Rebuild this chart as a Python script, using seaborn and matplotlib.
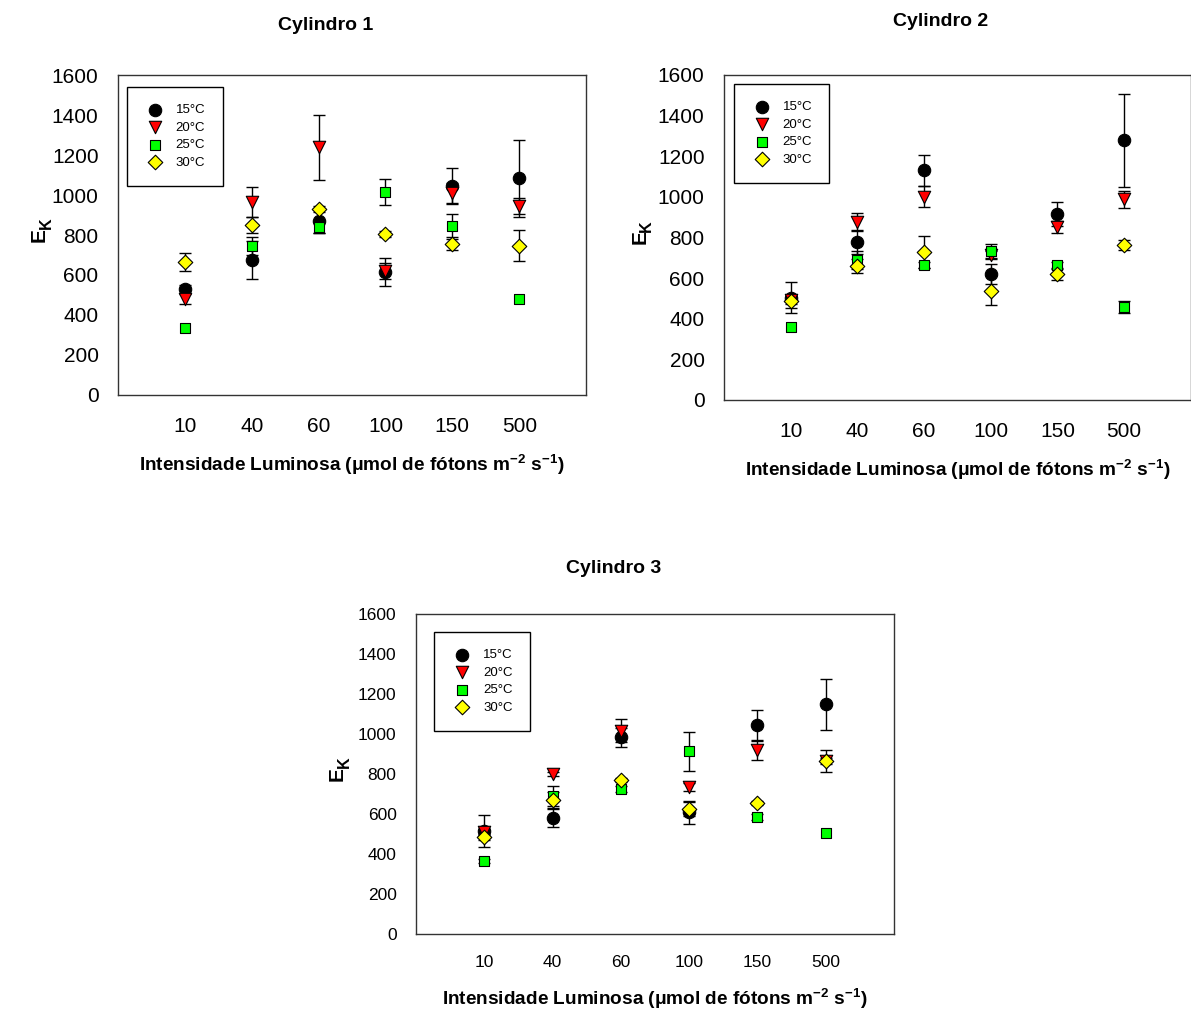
#!/usr/bin/env python3
"""E_K por intensidade luminosa e temperatura, tres cilindros."""

import matplotlib
matplotlib.use("Agg")
import matplotlib.pyplot as plt
import pandas as pd
import seaborn as sns

INTENSIDADES = ["10", "40", "60", "100", "150", "500"]
TEMPERATURAS = ["15°C", "20°C", "25°C", "30°C"]

# Cylindro 1
C1_15 = [532, 675, 870, 615, 1045, 1083]
C1_15_ERR = [20, 97, 60, 70, 90, 192]
C1_20 = [480, 963, 1238, 622, 1008, 947]
C1_20_ERR = [27, 75, 163, 40, 50, 40]
C1_25 = [337, 745, 842, 1017, 847, 478]
C1_25_ERR = [0, 45, 30, 65, 58, 0]
C1_30 = [663, 850, 932, 803, 753, 747]
C1_30_ERR = [45, 40, 15, 15, 28, 78]

# Cylindro 2
C2_15 = [503, 779, 1131, 620, 915, 1279]
C2_15_ERR = [76, 60, 76, 50, 60, 229]
C2_20 = [492, 877, 1000, 713, 852, 987]
C2_20_ERR = [20, 44, 52, 20, 30, 40]
C2_25 = [359, 689, 664, 733, 664, 459]
C2_25_ERR = [0, 44, 15, 36, 15, 30]
C2_30 = [485, 659, 728, 538, 618, 762]
C2_30_ERR = [30, 36, 80, 72, 28, 25]

# Cylindro 3
C3_15 = [515, 578, 983, 608, 1043, 1148]
C3_15_ERR = [78, 45, 47, 58, 78, 127]
C3_20 = [512, 800, 1017, 733, 920, 865]
C3_20_ERR = [15, 10, 58, 20, 50, 15]
C3_25 = [367, 692, 723, 913, 587, 503]
C3_25_ERR = [10, 50, 15, 97, 15, 0]
C3_30 = [487, 668, 768, 625, 655, 865]
C3_30_ERR = [15, 40, 10, 37, 10, 55]

CORES = ["black", "#ff0000", "#00ff00", "#ffff00"]
MARCADORES = ["o", "v", "s", "D"]
TAMANHOS = [80, 80, 60, 55]

XLABEL = ("Intensidade Luminosa ($\\mathregular{\\mu}$mol de fótons m$^{\\mathbf{-2}}$"
          " s$^{\\mathbf{-1}}$)")


def montar_df(series):
    linhas = []
    for temp, (vals, errs) in zip(TEMPERATURAS, series):
        for i, (inten, v, e) in enumerate(zip(INTENSIDADES, vals, errs)):
            linhas.append({"intensidade": inten, "pos": i + 1, "ek": v,
                           "err": e, "temp": temp})
    return pd.DataFrame(linhas)


def desenhar(ax, df, fs_tick, xpad, ypad, leg_anchor, leg_fs):
    for temp in TEMPERATURAS:
        sub = df[df["temp"] == temp]
        sub = sub[sub["err"] > 0]
        ax.errorbar(sub["pos"], sub["ek"], yerr=sub["err"], fmt="none",
                    ecolor="black", elinewidth=1.0, capsize=4, capthick=1.0,
                    zorder=2)
    for temp, cor, mk, s in zip(TEMPERATURAS, CORES, MARCADORES, TAMANHOS):
        sub = df[df["temp"] == temp]
        sns.scatterplot(data=sub, x="pos", y="ek", color=cor, marker=mk, s=s,
                        edgecolor="black", linewidth=0.8, label=temp, ax=ax,
                        zorder=3)
    ax.set_xlim(0, 7)
    ax.set_ylim(0, 1600)
    ax.set_xticks(range(1, len(INTENSIDADES) + 1))
    ax.set_xticklabels(INTENSIDADES)
    ax.set_yticks(range(0, 1601, 200))
    ax.tick_params(axis="both", labelsize=fs_tick, length=5, width=1,
                   direction="out", color="#333333", labelcolor="black")
    ax.tick_params(axis="x", pad=xpad)
    ax.tick_params(axis="y", pad=9)
    for sp in ax.spines.values():
        sp.set_visible(True)
        sp.set_color("#333333")
        sp.set_linewidth(1.0)
    # "E" no rotulo; o subscrito "K" vai depois, como texto proprio
    ax.set_ylabel("E", fontsize=15, fontweight="bold", labelpad=ypad,
                  color="black")
    ax.set_xlabel(XLABEL, fontsize=13.7, fontweight="bold", labelpad=12,
                  color="black")
    leg = ax.legend(loc="upper left", bbox_to_anchor=leg_anchor, fontsize=leg_fs,
                    frameon=True, fancybox=False, edgecolor="black",
                    framealpha=1, borderpad=1.3, labelspacing=0.4,
                    handletextpad=0.8, handlelength=1.6, borderaxespad=0)
    leg.get_frame().set_linewidth(1.0)
    for t in leg.get_texts():
        t.set_color("black")


def subscrito_k(fig, ax, renderer):
    bb = ax.yaxis.label.get_window_extent(renderer)
    W, H = fig.bbox.width, fig.bbox.height
    fig.text((bb.x0 + 0.45 * bb.width) / W, (bb.y1 - 1) / H, "K",
             rotation=90, fontsize=11.5, fontweight="bold", color="black",
             ha="left", va="bottom")


sns.set_theme(style="white")
plt.rcParams["font.family"] = ["Liberation Sans", "DejaVu Sans"]
plt.rcParams["text.color"] = "black"
plt.rcParams["mathtext.fontset"] = "custom"
plt.rcParams["mathtext.rm"] = "Liberation Sans"
plt.rcParams["mathtext.bf"] = "Liberation Sans:bold"
plt.rcParams["mathtext.it"] = "Liberation Sans:italic"
plt.rcParams["mathtext.default"] = "bf"

fig = plt.figure(figsize=(11.91, 10.18), dpi=100)
ax1 = fig.add_axes([0.0991, 0.612, 0.393, 0.3143])
ax2 = fig.add_axes([0.6079, 0.6071, 0.392, 0.3193])
ax3 = fig.add_axes([0.3493, 0.0825, 0.4013, 0.3143])

df1 = montar_df([(C1_15, C1_15_ERR), (C1_20, C1_20_ERR),
                 (C1_25, C1_25_ERR), (C1_30, C1_30_ERR)])
df2 = montar_df([(C2_15, C2_15_ERR), (C2_20, C2_20_ERR),
                 (C2_25, C2_25_ERR), (C2_30, C2_30_ERR)])
df3 = montar_df([(C3_15, C3_15_ERR), (C3_20, C3_20_ERR),
                 (C3_25, C3_25_ERR), (C3_30, C3_30_ERR)])

desenhar(ax1, df1, 15, 11, 2, (0.019, 0.9625), 9.5)
desenhar(ax2, df2, 15, 11, 6, (0.021, 0.972), 9.5)
desenhar(ax3, df3, 12.5, 10, 8, (0.038, 0.944), 9.5)

fig.text(0.273, 0.9754, "Cylindro 1", ha="center", va="center",
         fontsize=14, fontweight="bold", color="black")
fig.text(0.790, 0.979, "Cylindro 2", ha="center", va="center",
         fontsize=14, fontweight="bold", color="black")
fig.text(0.515, 0.442, "Cylindro 3", ha="center", va="center",
         fontsize=14, fontweight="bold", color="black")

fig.canvas.draw()
renderer = fig.canvas.get_renderer()
for ax in (ax1, ax2, ax3):
    subscrito_k(fig, ax, renderer)

fig.savefig("out.png", dpi=100, facecolor="white")
